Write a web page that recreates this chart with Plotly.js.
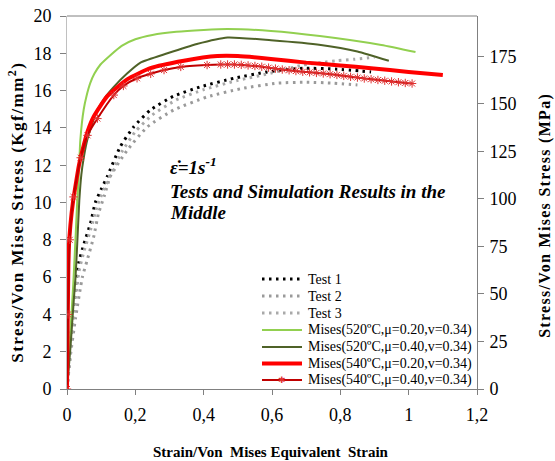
<!DOCTYPE html>
<html>
<head>
<meta charset="utf-8">
<script src="https://cdn.plot.ly/plotly-3.0.1.min.js"></script>
<style>html,body{margin:0;padding:0;background:#fff;}#chart{width:555px;height:461px;}</style>
</head>
<body>
<div id="chart"></div>
<script>
// Data
var test1X = [0, 0.008, 0.018, 0.034, 0.05, 0.069, 0.083, 0.1, 0.118, 0.156, 0.195, 0.244, 0.312, 0.39, 0.488, 0.586, 0.69, 0.79, 0.89];
var test1Y = [0, 2, 4.2, 6.75, 7.8, 8.9, 10.0, 10.7, 11.4, 13.0, 14.05, 14.96, 15.7, 16.2, 16.66, 17.0, 17.2, 17.15, 17.0];

var test2X = [0, 0.01, 0.025, 0.045, 0.059, 0.078, 0.092, 0.11, 0.127, 0.176, 0.235, 0.312, 0.41, 0.508, 0.616, 0.7, 0.78, 0.85];
var test2Y = [0, 1.8, 3.8, 6.0, 6.9, 8.15, 9.4, 10.4, 11.4, 12.8, 14.05, 14.96, 15.66, 16.1, 16.4, 16.45, 16.4, 16.3];

var test3X = [0, 0.01, 0.02, 0.035, 0.05, 0.07, 0.09, 0.12, 0.16, 0.2, 0.25, 0.32, 0.4, 0.5, 0.6, 0.69, 0.743, 0.79, 0.84, 0.9];
var test3Y = [0, 1.9, 3.9, 6.3, 7.4, 8.6, 9.9, 11.2, 12.7, 13.8, 14.7, 15.5, 16.05, 16.55, 16.95, 17.37, 17.5, 17.6, 17.68, 17.79];

var m520aX = [0, 0.008, 0.018, 0.026, 0.03, 0.034, 0.039, 0.049, 0.057, 0.068, 0.08, 0.098, 0.127, 0.16, 0.2, 0.25, 0.32, 0.4, 0.47, 0.597, 0.74, 0.92, 1.02];
var m520aY = [0, 2.5, 5.5, 8.5, 10.1, 11.3, 13.35, 15.0, 15.7, 16.4, 16.9, 17.4, 17.9, 18.4, 18.75, 18.98, 19.15, 19.25, 19.3, 19.2, 18.93, 18.45, 18.07];

var m520bX = [0, 0.01, 0.02, 0.025, 0.03, 0.036, 0.042, 0.049, 0.06, 0.075, 0.089, 0.11, 0.137, 0.175, 0.215, 0.294, 0.38, 0.47, 0.597, 0.743, 0.85, 0.942];
var m520bY = [0, 2.2, 4.8, 6.0, 7.8, 10.1, 11.5, 12.4, 13.4, 14.3, 14.96, 15.6, 16.2, 16.9, 17.5, 18.0, 18.5, 18.85, 18.7, 18.45, 18.1, 17.6];

var m540aX = [0, 0.002, 0.005, 0.01, 0.018, 0.024, 0.035, 0.048, 0.06, 0.078, 0.118, 0.176, 0.244, 0.342, 0.44, 0.5, 0.597, 0.7, 0.8, 0.89, 1.0, 1.1];
var m540aY = [0, 3.5, 7.45, 8.8, 10.1, 10.8, 12.0, 13.0, 13.8, 14.6, 15.7, 16.6, 17.2, 17.6, 17.85, 17.85, 17.7, 17.5, 17.35, 17.2, 17.0, 16.84];

var m540bX = [0, 0.003, 0.008, 0.019, 0.04, 0.06, 0.089, 0.137, 0.165, 0.205, 0.245, 0.284, 0.333, 0.41,
  0.45, 0.47, 0.49, 0.51, 0.53, 0.55, 0.57, 0.59, 0.61, 0.63, 0.65, 0.67, 0.69, 0.71, 0.73, 0.75, 0.77, 0.79,
  0.81, 0.83, 0.85, 0.87, 0.89, 0.91, 0.93, 0.95, 0.97, 0.99, 1.01];
var m540bY = [0, 4, 8, 10.3, 12.4, 13.6, 14.5, 15.76, 16.25, 16.66, 16.9, 17.1, 17.27, 17.37,
  17.4, 17.4, 17.4, 17.38, 17.35, 17.32, 17.28, 17.23, 17.18, 17.13, 17.09, 17.05, 17.01, 16.98, 16.95, 16.92, 16.88, 16.84,
  16.79, 16.74, 16.7, 16.65, 16.61, 16.57, 16.53, 16.49, 16.45, 16.41, 16.38];

var seriesNames = ['Test 1', 'Test 2', 'Test 3',
  'Mises(520ºC,μ=0.20,v=0.34)', 'Mises(520ºC,μ=0.40,v=0.34)',
  'Mises(540ºC,μ=0.20,v=0.34)', 'Mises(540ºC,μ=0.40,v=0.34)'];

var xTicks = [0, 0.2, 0.4, 0.6, 0.8, 1, 1.2];
var yTicks = [0, 2, 4, 6, 8, 10, 12, 14, 16, 18, 20];
var y2Ticks = [0, 25, 50, 75, 100, 125, 150, 175];

var serif = "'Liberation Serif', 'DejaVu Serif', serif";
var dotDash = '2.5px,4.5px';

var styles = [
  {line: {color: '#000000', width: 3, dash: dotDash}},
  {line: {color: '#9a9a9a', width: 3, dash: dotDash}},
  {line: {color: '#a9a9a9', width: 3, dash: dotDash}},
  {line: {color: '#92d050', width: 2}},
  {line: {color: '#4f6228', width: 2}},
  {line: {color: '#ff0000', width: 4}},
  {line: {color: '#c00000', width: 2}, marker: {symbol: 'asterisk-open', size: 7, color: '#e03030', line: {color: '#e03030', width: 1}}}
];
var xs = [test1X, test2X, test3X, m520aX, m520bX, m540aX, m540bX];
var ys = [test1Y, test2Y, test3Y, m520aY, m520bY, m540aY, m540bY];

var traces = [];
for (var i = 0; i < 7; i++) {
  var ln = Object.assign({shape: 'spline', smoothing: 0.5}, styles[i].line);
  var t = {x: xs[i], y: ys[i], name: seriesNames[i], mode: styles[i].marker ? 'lines+markers' : 'lines',
    line: ln, showlegend: false};
  if (styles[i].marker) t.marker = styles[i].marker;
  traces.push(t);
}
traces.push({x: [0, 1.2], y: [0, 196.133], yaxis: 'y2', mode: 'none', showlegend: false, hoverinfo: 'skip'});

// Plot area in pixels (for paper conversions of the legend and notes)
var L = 67, T = 16, W = 410, H = 373;
function px2x(p) { return (p - L) / W; }
function py2y(p) { return (T + H - p) / H; }

var shapes = [
  {type: 'line', xref: 'paper', yref: 'paper', x0: 0, x1: 1, y0: 1, y1: 1, line: {color: '#808080', width: 1}}
];
var annotations = [
  {xref: 'paper', yref: 'paper', x: px2x(168), y: py2y(166), xanchor: 'left', yanchor: 'middle', showarrow: false,
    text: '<b><i>ε̇=1s<sup>-1</sup></i></b>', font: {family: serif, size: 19}},
  {xref: 'paper', yref: 'paper', x: px2x(168), y: py2y(191), xanchor: 'left', yanchor: 'middle', showarrow: false,
    text: '<b><i>Tests and Simulation Results in the</i></b>', font: {family: serif, size: 19}},
  {xref: 'paper', yref: 'paper', x: px2x(168), y: py2y(212), xanchor: 'left', yanchor: 'middle', showarrow: false,
    text: '<b><i>Middle</i></b>', font: {family: serif, size: 19}},
  // axis titles
  {xref: 'paper', yref: 'paper', x: px2x(16), y: py2y(212), xanchor: 'center', yanchor: 'middle', showarrow: false, textangle: -90,
    text: '<b>Stress/Von Mises Stress (Kgf/mm<sup>2</sup>)</b>', font: {family: serif, size: 17}},
  {xref: 'paper', yref: 'paper', x: px2x(545), y: py2y(216), xanchor: 'center', yanchor: 'middle', showarrow: false, textangle: -90,
    text: '<b>Stress/Von Mises Stress (MPa)</b>', font: {family: serif, size: 16}},
  {xref: 'paper', yref: 'paper', x: px2x(271), y: py2y(452), xanchor: 'center', yanchor: 'middle', showarrow: false,
    text: '<b>Strain/Von  Mises Equivalent  Strain</b>', font: {family: serif, size: 15}}
];
// legend drawn as shapes + text
var legRows = [279, 296, 313, 330, 347, 363.5, 380];
for (var k = 0; k < 7; k++) {
  var sl = styles[k].line;
  shapes.push({type: 'line', xref: 'paper', yref: 'paper', x0: px2x(262), x1: px2x(302), y0: py2y(legRows[k]), y1: py2y(legRows[k]),
    line: {color: sl.color, width: sl.width, dash: sl.dash || 'solid'}});
  annotations.push({xref: 'paper', yref: 'paper', x: px2x(306), y: py2y(legRows[k]), xanchor: 'left', yanchor: 'middle',
    showarrow: false, text: seriesNames[k], font: {family: serif, size: 14, color: '#000'}});
}
annotations.push({xref: 'paper', yref: 'paper', x: px2x(282), y: py2y(380), xanchor: 'center', yanchor: 'middle',
  showarrow: false, text: '✱', font: {family: 'DejaVu Sans', size: 9, color: '#e03030'}});

var tickFont = {family: serif, size: 18, color: '#000'};
var layout = {
  width: 555, height: 461,
  margin: {l: L, r: 555 - L - W, t: T, b: 461 - T - H},
  paper_bgcolor: '#ffffff', plot_bgcolor: '#ffffff',
  separators: ', ',
  font: {family: serif, size: 16, color: '#000'},
  showlegend: false,
  xaxis: {
    range: [0, 1.2], tickvals: xTicks, ticks: 'outside', ticklen: 5, tickcolor: '#808080',
    showgrid: false, zeroline: false, showline: true, linecolor: '#808080', linewidth: 1,
    tickfont: tickFont, ticklabelstandoff: 4
  },
  yaxis: {
    range: [0, 20], tickvals: yTicks, ticks: 'outside', ticklen: 6, tickcolor: '#808080',
    showgrid: false, zeroline: false, showline: true, linecolor: '#c0c0c0', linewidth: 1,
    tickfont: tickFont, ticklabelstandoff: 5
  },
  yaxis2: {
    overlaying: 'y', side: 'right', range: [0, 196.133], tickvals: y2Ticks,
    ticks: 'outside', ticklen: 6, tickcolor: '#808080',
    showgrid: false, zeroline: false, showline: true, linecolor: '#808080', linewidth: 1,
    tickfont: tickFont, ticklabelstandoff: 2
  },
  shapes: shapes,
  annotations: annotations
};

Plotly.newPlot('chart', traces, layout, {staticPlot: true, displayModeBar: false}).then(function () {
  var nodes = document.querySelectorAll('#chart .annotation-text');
  nodes.forEach(function (n) {
    var s = n.textContent;
    if (s.indexOf('(Kgf/mm') >= 0) n.style.letterSpacing = '1.5px';
    else if (s.indexOf('(MPa)') >= 0) n.style.letterSpacing = '1.3px';
  });
});
</script>
</body>
</html>
